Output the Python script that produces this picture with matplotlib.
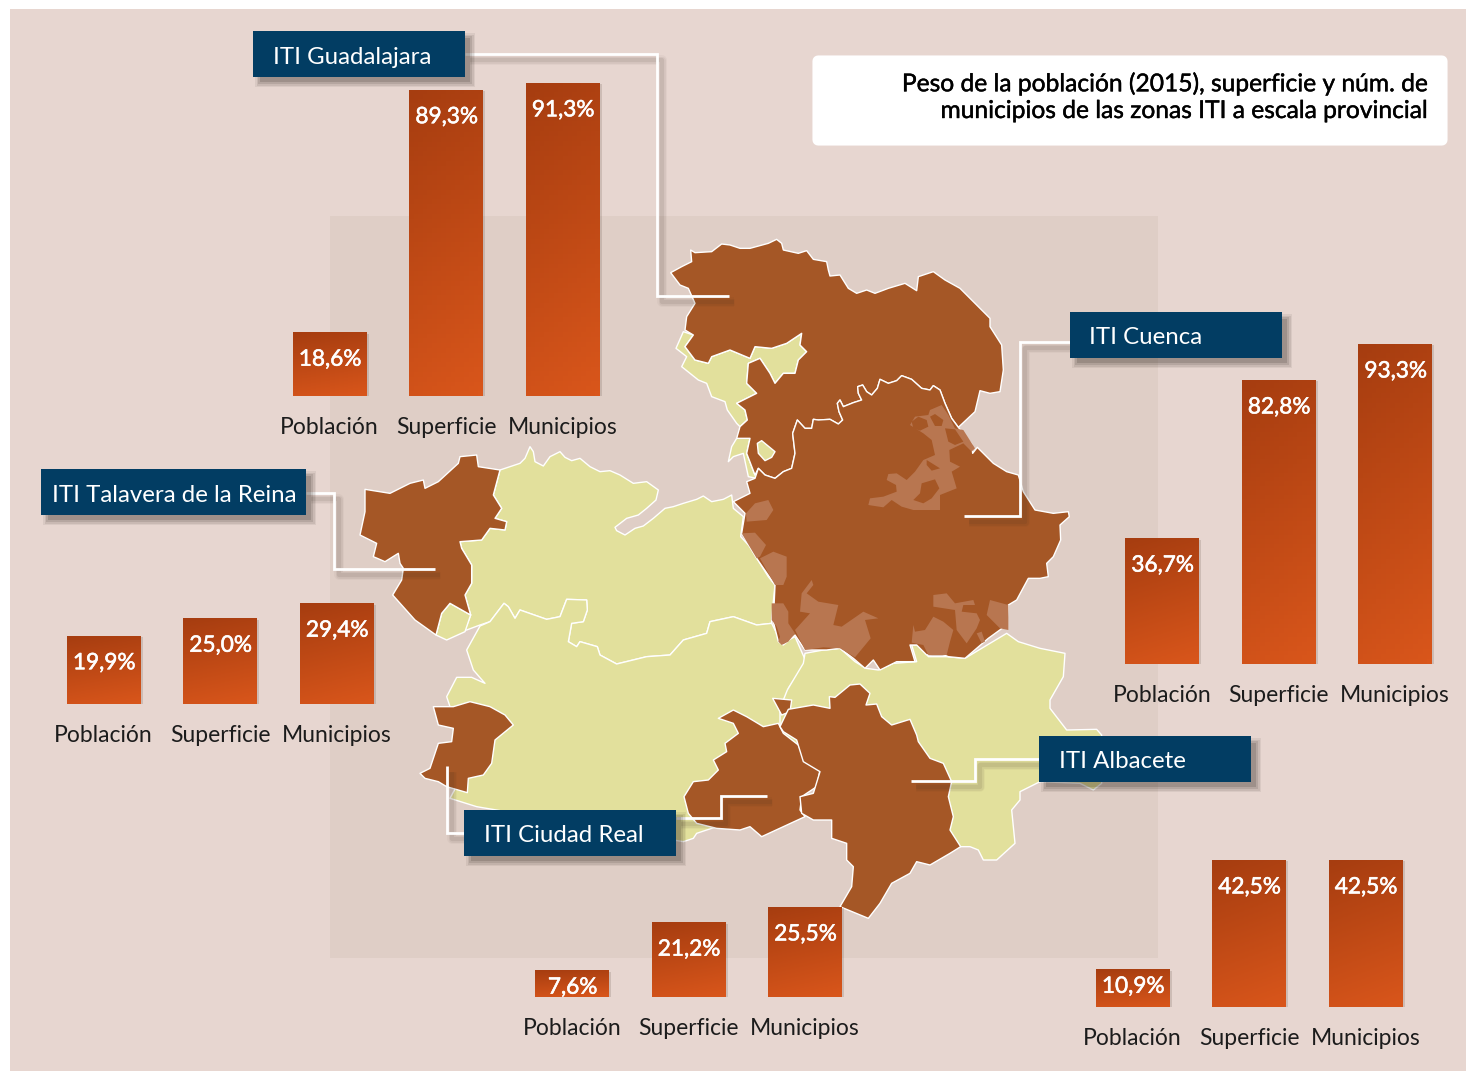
import numpy as np
import matplotlib
matplotlib.use('Agg')
import matplotlib.pyplot as plt
import matplotlib.patheffects as pe
from matplotlib.patches import Polygon, Rectangle, FancyBboxPatch

W, H = 1466, 1071

# bar data, one list per zone
categories = ['Población', 'Superficie', 'Municipios']
guadalajara = [18.6, 89.3, 91.3]
cuenca = [36.7, 82.8, 93.3]
talavera = [19.9, 25.0, 29.4]
ciudad_real = [7.6, 21.2, 25.5]
albacete = [10.9, 42.5, 42.5]

# zone label text, box (x0, y0, x1, y1), leader lines
labels = ['ITI Guadalajara', 'ITI Cuenca', 'ITI Talavera de la Reina', 'ITI Ciudad Real', 'ITI Albacete']
label_boxes = [(253, 31, 465, 77), (1070, 312, 1282, 358), (41, 469, 306, 515), (464, 810, 676, 856), (1039, 736, 1251, 782)]
label_pad = [20, 19, 11, 20, 20]
leaders = [
    [(465, 54), (657, 54), (657, 296), (729, 296)],
    [(1070, 342), (1020, 342), (1020, 516), (964, 516)],
    [(306, 493), (334, 493), (334, 569), (435, 569)],
    [(464, 833), (447, 833), (447, 766)],
    [(676, 818), (721, 818), (721, 796), (767, 796)],
    [(1039, 759), (975, 759), (975, 781), (911, 781)],
]

# map outlines, traced at 3x from crops of the picture
river = [(955,622),(935,595),(915,550),(900,510),(880,497),(870,510),(845,505),(815,478),(785,467),(770,482),(745,490),(720,478),(712,505),(695,525),(680,515),(668,495),(653,500),(655,520),(665,540),(640,548),(610,560),(600,540),(592,550),(597,575),(608,600),(595,612),(570,598),(535,600),(520,598),(515,625),(495,625),(472,600),(458,640),(465,700),(455,745),(430,755),(405,775),(375,765),(355,745)]
guada_north = [(92,158),(125,140),(155,125),(152,90),(165,98),(215,95),(245,72),(270,75),(300,85),(330,85),(385,70),(410,58),(425,70),(430,90),(475,100),(500,92),(520,118),(560,125),(565,150),(570,168),(600,165),(625,205),(650,220),(680,210),(705,220),(745,205),(795,190),(830,212),(835,170),(880,155),(915,180),(960,205),(1005,250),(1050,295),(1050,320),(1085,375),(1090,450),(1080,515),(1050,520),(1020,512),(1005,575)]
guada_west = [(345,765),(320,700),(330,655),(290,655),(300,620),(322,600),(315,570),(290,550),(350,520),(320,490),(325,430),(360,415),(390,460),(405,490),(430,460),(465,460),(475,420),(500,395),(480,375),(485,340),(440,370),(395,385),(345,380),(330,415),(270,390),(215,410),(205,430),(165,420),(135,380),(160,345),(135,330),(140,290),(165,250),(145,205),(120,195)]
guada_rest = [(130,335),(160,345),(135,380),(165,420),(205,430),(215,410),(270,390),(330,415),(345,380),(395,385),(440,370),(485,340),(480,375),(500,395),(475,420),(465,460),(430,460),(405,490),(390,460),(360,415),(325,430),(320,490),(350,520),(290,550),(315,570),(322,600),(300,620),(290,610),(262,570),(255,545),(215,530),(200,490),(175,480),(125,440),(140,410),(108,385)]
guada_rest2 = [(290,655),(330,655),(320,700),(345,765),(355,750),(350,775),(325,770),(310,700),(280,710),(265,725),(275,680)]
guada_island = [(352,670),(365,662),(405,695),(395,712),(375,722),(355,700)]
cuenca_south = [(995,672),(998,700),(1012,682),(1060,730),(1100,755),(1135,765),(1150,815),(1185,870),(1240,880),(1285,875),(1288,890),(1260,915),(1262,960),(1240,1010),(1220,1030),(1225,1070),(1200,1075),(1165,1075),(1130,1140),(1105,1155),(1100,1215),(1045,1255),(975,1315),(925,1310),(900,1300),(860,1305),(830,1275),(810,1275),(825,1325),(770,1325),(720,1350),(700,1320),(675,1345),(640,1315),(600,1285),(560,1290),(495,1290),(465,1245),(430,1275),(415,1265),(400,1205),(405,1095),(350,1015),(305,940),(315,880),(280,845),(330,820),(320,785),(345,775)]
light_west = [
    [(345,850),(385,840),(400,870),(380,900),(320,905),(318,880)],
    [(305,940),(345,938),(378,975),(360,1010),(350,1015)],
    [(360,1015),(400,995),(440,1010),(440,1070),(430,1095),(405,1095)],
]
light_centre = [(140,35),(165,50),(150,75),(190,100),(215,120),(225,165),(190,180),(165,215),(140,240),(110,220),(85,222),(80,240),(108,255),(110,275),(70,290),(30,295),(25,315),(70,322),(95,300),(125,320),(160,330),(240,330),(240,310),(240,285),(290,265),(275,215),(300,200),(270,185),(268,150),(310,130),(335,155),(345,145),(310,90),(285,85),(265,45),(245,15),(210,30),(205,45),(165,50)]
holes_centre = [
    [(155,65),(175,50),(200,60),(205,80),(180,92),(160,85)],
    [(210,50),(225,42),(250,60),(245,78),(225,78)],
    [(255,85),(285,88),(310,125),(285,135),(265,125)],
    [(160,300),(180,280),(185,250),(225,238),(238,265),(215,295),(190,310)],
    [(200,180),(240,205),(215,212),(200,195)],
]
light_south = [
    [(35,100),(70,100),(85,125),(85,160),(105,190),(85,215),(65,225),(55,215),(60,200),(50,170),(35,150)],
    [(155,30),(160,45),(140,70),(175,95),(235,105),(220,165),(245,170),(310,125),(355,145),(315,150),(332,205),(285,262),(240,235),(190,232),(135,240),(105,180),(150,130),(120,125),(125,70)],
    [(460,165),(465,185),(495,180),(520,140),(550,155),(580,180),(570,215),(560,255),(505,255),(490,225),(455,218)],
    [(520,75),(560,70),(585,100),(640,90),(645,105),(610,105),(605,125),(650,130),(660,150),(650,175),(620,220),(590,180),(585,120),(520,110)],
    [(690,90),(745,105),(745,180),(720,175),(680,135)],
    [(650,190),(665,185),(675,215),(665,220)],
]
talavera_iti = [(45,148),(120,160),(180,130),(220,120),(225,145),(265,125),(325,70),(330,50),(380,45),(385,80),(450,90),(430,165),(455,205),(435,235),(470,245),(465,270),(420,265),(395,300),(330,305),(335,325),(365,375),(365,430),(345,465),(362,525),(300,490),(275,520),(258,585),(195,540),(128,465),(155,420),(160,385),(150,370),(145,340),(105,365),(70,350),(80,310),(30,285),(45,215)]
toledo = [(450,90),(480,80),(510,70),(525,55),(540,20),(550,35),(555,65),(580,78),(600,50),(630,35),(645,52),(665,62),(690,55),(720,80),(750,95),(780,92),(810,105),(850,130),(890,125),(925,150),(918,180),(890,205),(865,225),(830,235),(795,262),(800,272),(825,285),(855,265),(880,258),(910,235),(945,205),(970,200),(1000,190),(1040,178),(1060,168),(1085,185),(1120,178),(1145,165),(1150,205),(1180,230),(1172,290),(1200,320),(1230,370),(1255,410),(1275,435),(1265,535),(1265,550),(1220,555),(1150,530),(1080,545),(1070,580),(1000,600),(960,645),(890,650),(800,672),(750,645),(742,620),(690,605),(680,620),(655,605),(665,550),(700,545),(712,510),(710,480),(650,478),(630,530),(590,538),(510,510),(495,535),(475,500),(462,490),(420,545),(390,555),(350,570),(345,570),(362,525),(345,465),(365,430),(365,375),(335,325),(330,305),(395,300),(420,265),(465,270),(470,245),(435,235),(455,205),(430,165)]
toledo_small = [(300,490),(362,525),(345,575),(290,600),(258,585),(275,520)]
creal = [(390,558),(420,545),(462,490),(475,500),(495,535),(510,510),(590,538),(630,530),(650,478),(710,480),(712,510),(700,545),(665,550),(655,605),(680,620),(690,605),(742,620),(750,645),(800,672),(890,650),(960,645),(1000,600),(1070,580),(1080,545),(1150,530),(1220,555),(1265,550),(1295,610),(1335,590),(1368,665),(1315,745),(1325,800),(1310,830),(1290,870),(1280,1100),(1040,1180),(1030,1195),(1000,1205),(380,1100),(300,1075),(340,1000),(300,800),(290,770),(320,712),(365,712),(405,730),(370,690),(350,630)]
creal_west = [(250,800),(310,800),(360,785),(420,800),(465,825),(490,855),(435,900),(425,970),(400,1005),(355,1015),(352,1058),(290,1040),(265,1025),(225,1015),(210,1000),(240,985),(265,910),(305,905),(310,865),(265,855)]
creal_east = [(1105,835),(1150,810),(1190,830),(1240,860),(1285,850),(1300,880),(1345,915),(1365,960),(1410,990),(1400,1040),(1355,1070),(1350,1110),(1365,1130),(1300,1160),(1235,1190),(1200,1160),(1170,1170),(1100,1165),(1040,1150),(1015,1120),(1002,1070),(1030,1025),(1075,1020),(1105,990),(1090,960),(1130,935),(1125,910),(1165,880),(1150,850)]
creal_small = [(1268,775),(1325,780),(1320,815),(1295,825)]
alba = [(22,210),(70,130),(75,100),(130,90),(180,85),(225,125),(258,145),(295,150),(340,130),(410,125),(395,75),(425,75),(445,110),(500,110),(555,115),(680,40),(715,65),(780,85),(855,100),(850,170),(810,240),(810,265),(860,330),(950,328),(965,345),(965,490),(940,510),(900,490),(780,485),(720,515),(720,540),(695,570),(705,670),(650,720),(610,720),(595,690),(570,680),(540,680),(400,600),(0,400),(0,265)]
alba_iti = [(0,320),(25,268),(100,255),(150,265),(148,230),(165,232),(210,195),(240,192),(270,220),(258,255),(290,252),(305,290),(335,315),(390,298),(410,345),(415,365),(450,415),(490,430),(515,485),(505,530),(520,590),(510,630),(542,680),(510,700),(450,735),(410,725),(390,760),(335,790),(300,850),(265,895),(180,860),(215,800),(220,740),(200,720),(200,670),(155,655),(155,600),(100,600),(65,580),(60,530),(100,520),(120,455),(70,425),(50,360),(10,335)]

BG = '#e7d6d0'
INNER = '#dfcec6'
YELLOW = '#e2e09c'
BROWN = '#a55726'
LIGHT = '#b87650'
NAVY = '#023d63'

plt.rcParams['font.family'] = ['Lato', 'DejaVu Sans']

fig = plt.figure(figsize=(W / 100, H / 100), dpi=100, facecolor='white')
ax = fig.add_axes([0, 0, 1, 1])
ax.set_xlim(0, W)
ax.set_ylim(H, 0)
ax.axis('off')

ax.add_patch(Rectangle((10, 9), W - 10, H - 9, fc=BG, ec='none', zorder=0))
ax.add_patch(Rectangle((330, 216), 828, 742, fc=INNER, ec='none', zorder=0))


def shift(pts, x0, y0):
    # crops were 3x, so back to picture pixels
    return [(x0 + x / 3, y0 + y / 3) for x, y in pts]


def region(pts, origin, color, z=2, edge='white', lw=1.0):
    ax.add_patch(Polygon(shift(pts, *origin), closed=True, fc=color, ec=edge, lw=lw, joinstyle='round', zorder=z))


CROP_N = (640, 220)
CROP_W = (350, 440)
CROP_E = (780, 620)
CROP_C = (860, 400)
CROP_S = (760, 570)

region(toledo, CROP_W, YELLOW)
region(toledo_small, CROP_W, YELLOW)
region(creal, CROP_W, YELLOW)
region(alba, CROP_E, YELLOW)
region(guada_rest, CROP_N, YELLOW)
region(guada_rest2, CROP_N, YELLOW)
region(guada_north + river + guada_west, CROP_N, BROWN, z=3)
region(guada_island, CROP_N, YELLOW, z=3)
region(cuenca_south + river[::-1], CROP_N, BROWN, z=3)
for p in light_west:
    region(p, CROP_N, LIGHT, z=4, edge='none', lw=0)
for p in light_south:
    region(p, CROP_S, LIGHT, z=4, edge='none', lw=0)
region(light_centre, CROP_C, LIGHT, z=4, edge='none', lw=0)
for p in holes_centre:
    region(p, CROP_C, BROWN, z=4, edge='none', lw=0)
region(talavera_iti, CROP_W, BROWN, z=3)
region(creal_west, CROP_W, BROWN, z=3)
region(creal_east, CROP_W, BROWN, z=3)
region(creal_small, CROP_W, BROWN, z=3)
region(alba_iti, CROP_E, BROWN, z=3)

# leader lines with a soft shadow
for line in leaders:
    xs = [p[0] for p in line]
    ys = [p[1] for p in line]
    for lw, a in [(7, 0.04), (5, 0.06), (3, 0.09)]:
        ax.plot([x + 5 for x in xs], [y + 6 for y in ys], color='#3a2a20', lw=lw, alpha=a, zorder=5, solid_capstyle='butt')
for line in leaders:
    ax.plot([p[0] for p in line], [p[1] for p in line], color='white', lw=2.0, zorder=6,
            solid_capstyle='butt', solid_joinstyle='miter')

# zone labels
for text, box, pad in zip(labels, label_boxes, label_pad):
    x0, y0, x1, y1 = box
    for grow, a in [(4, 0.07), (2.5, 0.09), (1, 0.12), (-1, 0.16)]:
        ax.add_patch(Rectangle((x0 + 6 - grow, y0 + 6 - grow), x1 - x0 + 2 * grow, y1 - y0 + 2 * grow,
                               fc='#2a2018', ec='none', alpha=a, zorder=7))
    ax.add_patch(Rectangle((x0, y0), x1 - x0, y1 - y0, fc=NAVY, ec='none', zorder=8))
    ax.text(x0 + pad, (y0 + y1) / 2 + 3, text, color='white', fontsize=17.3, va='center', ha='left', zorder=9)

# title box
ax.add_patch(FancyBboxPatch((818, 61), 624, 79, boxstyle='round,pad=0,rounding_size=0', fc='white', ec='white', lw=8, joinstyle='round', zorder=5))
title_fx = [pe.withStroke(linewidth=0.3, foreground='black')]
ax.text(1428, 83.5, 'Peso de la población (2015), superficie y núm. de', fontsize=17.7, color='black',
        ha='right', va='center', zorder=6, path_effects=title_fx)
ax.text(1428, 110.5, 'municipios de las zonas ITI a escala provincial', fontsize=17.7, color='black',
        ha='right', va='center', zorder=6, path_effects=title_fx)

SPACING = 116.5
BAR_W = 74 / SPACING
DARK = np.array(matplotlib.colors.to_rgb('#a63d10'))
ORANGE = np.array(matplotlib.colors.to_rgb('#d9561b'))


def bar_group(values, first_x, baseline, px_per_pct=3.43):
    # axes scaled so that 1 x unit is the bar spacing and y is in percent
    left = first_x - SPACING / 2
    bar_ax = fig.add_axes([left / W, 1 - baseline / H, 3 * SPACING / W, 100 * px_per_pct / H], zorder=3)
    bar_ax.patch.set_alpha(0)
    for s in bar_ax.spines.values():
        s.set_visible(False)
    bar_ax.set_xlim(-0.5, 2.5)
    bar_ax.set_ylim(0, 100)
    bar_ax.set_yticks([])
    bar_ax.set_xticks(range(3))
    bar_ax.set_xticklabels(categories, fontsize=16.5, color='#1c1c1c')
    bar_ax.tick_params(axis='x', length=0, pad=15)
    bars = bar_ax.bar(range(3), values, width=BAR_W, color=ORANGE, linewidth=0,
                      path_effects=[pe.SimplePatchShadow(offset=(1.5, -1), alpha=0.15, shadow_rgbFace='#3a2a20'), pe.Normal()])
    yy, xx = np.mgrid[0:1:64j, 0:1:16j]
    t = np.clip(0.85 * yy + 0.15 * xx, 0, 1)[..., None]
    grad = DARK * (1 - t) + ORANGE * t
    for i, (b, v) in enumerate(zip(bars, values)):
        im = bar_ax.imshow(grad, extent=(i - BAR_W / 2, i + BAR_W / 2, 0, v), origin='upper', aspect='auto', zorder=2)
        im.set_clip_path(b)
        label = f'{v:.1f}%'.replace('.', ',')
        drop = 27 if v > 15 else 17
        bar_ax.annotate(label, (i, v), xytext=(0.5, -drop * 0.72), textcoords='offset points', ha='center', va='center',
                        color='white', fontsize=16.3, zorder=4, annotation_clip=False,
                        path_effects=[pe.withStroke(linewidth=0.4, foreground='white')])
    bar_ax.set_xlim(-0.5, 2.5)
    bar_ax.set_ylim(0, 100)


bar_group(guadalajara, 329.5, 396)
bar_group(cuenca, 1162, 664)
bar_group(talavera, 103.5, 704)
bar_group(ciudad_real, 572, 997, px_per_pct=3.53)
bar_group(albacete, 1132.5, 1007, px_per_pct=3.46)

fig.savefig('out.png', dpi=100)
